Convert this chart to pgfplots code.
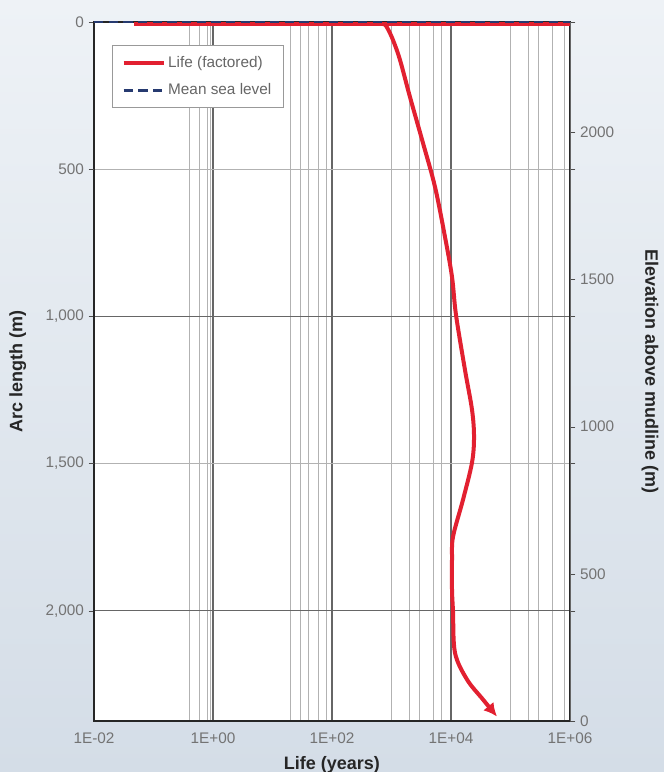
\documentclass[border=0pt]{standalone}
\usepackage{fontspec}
\setmainfont{Liberation Sans}
\setsansfont{Liberation Sans}
\usepackage{pgfplots}
\usepackage{pgfplotstable}
\pgfplotsset{compat=1.18}
\usetikzlibrary{arrows.meta}
\definecolor{lifered}{RGB}{226,32,48}
\definecolor{msnavy}{RGB}{38,58,112}
\definecolor{bgtop}{RGB}{238,242,246}
\definecolor{bgbot}{RGB}{212,221,231}

\pgfplotstableread{
life arc
600 6
760 8
860 22
1059 61
1390 129
2046 255
3381 411
5383 560
7925 730
10399 866
12134 995
17179 1182
22542 1317
24378 1409
22542 1497
15922 1623
10814 1749
10399 1827
10399 1929
10814 2003
11668 2143
18578 2234
34514 2302
59293 2360
}\lifetable

\begin{document}
\begin{tikzpicture}
\fill[top color=bgtop,bottom color=bgbot] (-70.5pt,-38.25pt) rectangle (427.5pt,540.75pt);
\path[use as bounding box] (-70.5pt,-38.25pt) rectangle (427.5pt,540.75pt);
\begin{axis}[
  at={(0,0)}, anchor=south west,
  scale only axis, width=357pt, height=524.25pt,
  axis background/.style={fill=white},
  clip=false,
  xmode=log, xmin=1e-2, xmax=1e6,
  y dir=reverse, ymin=0, ymax=2375,
  xtick={1e-2,1,1e2,1e4,1e6},
  xticklabels={1E-02,1E+00,1E+02,1E+04,1E+06},
  minor xtick={0.4,0.6,0.8,0.9,20,30,40,60,80,1000,2000,3000,5000,7000,1e5,2e5,3e5,5e5,8e5},
  ytick={0,1000,2000},
  minor ytick={500,1500},
  extra y ticks={500,1500},
  extra tick style={grid=none},
  xmajorgrids, xminorgrids, ymajorgrids, yminorgrids,
  major grid style={black!60, line width=0.9pt},
  minor grid style={black!30, line width=0.6pt},
  tick align=outside,
  major tick length=4pt,
  minor tick length=0pt,
  xtick style={draw=none},
  ytick style={black!70},
  axis line style={black!85, line width=0.9pt},
  /pgf/number format/assume math mode=true,
  yticklabel style={/pgf/number format/1000 sep={,}},
  tick label style={font=\fontsize{11.5}{13}\selectfont, text=black!55},
  xticklabel style={yshift=-1pt},
  xlabel={Life (years)},
  ylabel={Arc length (m)},
  label style={font=\bfseries\fontsize{13.5}{16}\selectfont, text=black!85},
  x label style={at={(axis description cs:0.5,-0.063)}, anchor=center},
  y label style={at={(axis description cs:-0.16,0.5)}, anchor=center},
  legend style={at={(0.038,0.967)}, anchor=north west, draw=black!40, fill=white,
    font=\fontsize{11.5}{13}\selectfont, text=black!60,
    inner xsep=7pt, inner ysep=6pt, row sep=7pt},
  legend cell align=left,
  legend image code/.code={\draw[#1, arrows=-] (0cm,0cm) -- (1.05cm,0cm);},
]
\addplot[lifered, line width=3pt, forget plot] coordinates {(0.0468,7) (1e6,7)};
\addplot[lifered, line width=3pt, smooth, tension=0.55, -{Latex[length=10pt,width=10pt]}] table[x=life,y=arc] {\lifetable};
\addlegendentry{Life (factored)}
\addplot[msnavy, line width=1.8pt, dash pattern=on 7pt off 4pt] coordinates {(0.01,0) (1e6,0)};
\addlegendentry{Mean sea level}
\end{axis}
\begin{axis}[
  at={(0,0)}, anchor=south west,
  scale only axis, width=357pt, height=524.25pt,
  axis x line=none, axis y line*=right,
  xmin=0, xmax=1,
  ymin=0, ymax=2375,
  ytick={0,500,1000,1500,2000},
  tick align=outside,
  major tick length=4pt,
  ytick style={black!70},
  axis line style={black!60, line width=0.7pt},
  /pgf/number format/assume math mode=true,
  yticklabel style={/pgf/number format/1000 sep={}},
  tick label style={font=\fontsize{11.5}{13}\selectfont, text=black!55},
  ylabel={Elevation above mudline (m)},
  ylabel style={at={(axis description cs:1.168,0.5)}, anchor=center, rotate=180,
    font=\bfseries\fontsize{13.5}{16}\selectfont, text=black!85},
]
\end{axis}
\end{tikzpicture}
\end{document}
